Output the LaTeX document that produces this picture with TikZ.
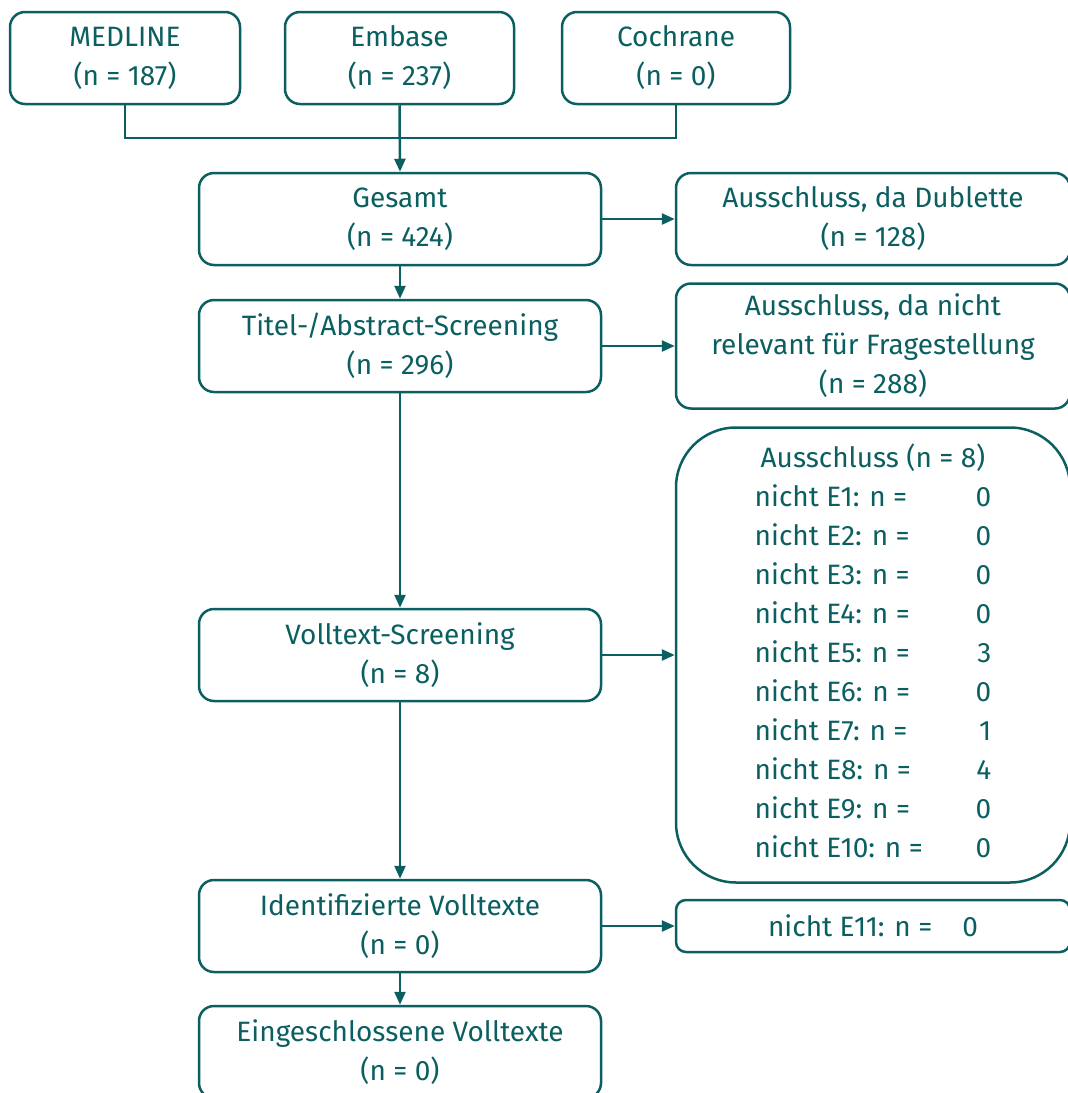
\documentclass[tikz,border=0pt]{standalone}
\usepackage{fontspec}
\setmainfont{Fira Sans}
\usetikzlibrary{arrows.meta}
\definecolor{tealc}{HTML}{0B5F60}
\begin{document}
\begin{tikzpicture}[x=1pt,y=-1pt,
  box/.style={draw=tealc, line width=2.5pt, rounded corners=15pt, text=tealc,
    align=center, inner sep=0pt, minimum height=92pt, font=\fontsize{28}{39}\selectfont},
  lbox/.style={box, minimum width=402pt},
  rbox/.style={box, minimum width=394pt},
  conn/.style={draw=tealc, line width=2.5pt},
  arr/.style={conn, -{Triangle[length=13pt,width=11pt]}}]
\useasboundingbox (0,0) rectangle (1068,1093);
\node[box, minimum width=230pt] (med) at (125,58) {MEDLINE\\(n = 187)};
\node[box, minimum width=229pt] (emb) at (399.5,58) {Embase\\(n = 237)};
\node[box, minimum width=228pt] (coc) at (676,58) {Cochrane\\(n = 0)};
\node[lbox] (ges) at (400,219) {Gesamt\\(n = 424)};
\node[rbox] (dub) at (873,219) {Ausschluss, da Dublette\\(n = 128)};
\node[lbox] (tit) at (400,346) {Titel-/Abstract-Screening\\(n = 296)};
\node[rbox, minimum height=125pt] (rel) at (873,346) {Ausschluss, da nicht\\relevant für Fragestellung\\(n = 288)};
\node[lbox] (vol) at (400,655) {Volltext-Screening\\(n = 8)};
\node[rbox, minimum height=455pt, rounded corners=60pt] (big) at (873,655) {%
  \begin{tabular}{@{}l@{\hspace{2pt}}r@{}}
  \multicolumn{2}{c}{Ausschluss (n = 8)}\\
  nicht E1: n = & 0\\
  nicht E2: n = & 0\\
  nicht E3: n = & 0\\
  nicht E4: n = & 0\\
  nicht E5: n = & 3\\
  nicht E6: n = & 0\\
  nicht E7: n = & 1\\
  nicht E8: n = & 4\\
  nicht E9: n = & 0\\
  nicht E10: n = & 0
  \end{tabular}};
\node[lbox] (idf) at (400,926) {Identifizierte Volltexte\\(n = 0)};
\node[rbox, minimum height=52pt, rounded corners=10pt] (e11) at (873,926) {nicht E11: n =\hspace{30pt}0};
\node[lbox] (ein) at (400,1052) {Eingeschlossene Volltexte\\(n = 0)};
\coordinate (j) at (399.5,138);
\draw[conn] (med.south) |- (j) -| (coc.south);
\draw[arr] (emb.south) -- (ges.north);
\draw[arr] (ges.east) -- (dub.west);
\draw[arr] (ges.south) -- (tit.north);
\draw[arr] (tit.east) -- (rel.west);
\draw[arr] (tit.south) -- (vol.north);
\draw[arr] (vol.east) -- (big.west);
\draw[arr] (vol.south) -- (idf.north);
\draw[arr] (idf.east) -- (e11.west);
\draw[arr] (idf.south) -- (ein.north);
\end{tikzpicture}
\end{document}
